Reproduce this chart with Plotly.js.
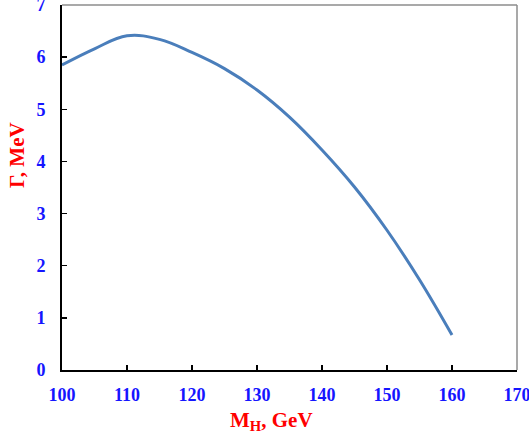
<!DOCTYPE html>
<html>
<head>
<meta charset="utf-8">
<script src="https://cdn.plot.ly/plotly-3.0.1.min.js"></script>
<style>html,body{margin:0;padding:0;background:#fff;}#chart{width:529px;height:440px;}</style>
</head>
<body>
<div id="chart"></div>
<script>
var massGeV = [100, 105, 110, 115, 120, 125, 130, 135, 140, 145, 150, 155, 160];
var widthMeV = [5.85, 6.16, 6.41, 6.34, 6.09, 5.78, 5.37, 4.85, 4.22, 3.51, 2.68, 1.73, 0.67];
var xTickVals = [100, 110, 120, 130, 140, 150, 160, 170];
var yTickVals = [0, 1, 2, 3, 4, 5, 6, 7];

var tickFont = {family: 'Liberation Serif, Times New Roman, serif', size: 18, color: '#1515ff', weight: 'bold'};
var titleFont = {family: 'Liberation Serif, Times New Roman, serif', size: 21, color: '#ff0000', weight: 'bold'};

var trace = {
  x: massGeV, y: widthMeV, type: 'scatter', mode: 'lines',
  line: {color: '#4a7ebb', width: 3, shape: 'spline', smoothing: 1.1},
  hoverinfo: 'skip'
};

var layout = {
  width: 529, height: 440,
  margin: {l: 62, r: 12, t: 5, b: 70},
  paper_bgcolor: '#fff', plot_bgcolor: '#fff',
  showlegend: false,
  xaxis: {
    range: [100, 170], tickvals: xTickVals, ticktext: xTickVals.map(String),
    ticks: 'inside', ticklen: 5, tickwidth: 1.5, tickcolor: '#000',
    showline: true, linecolor: '#000', linewidth: 2, showgrid: false, zeroline: false,
    tickfont: tickFont, ticklabelstandoff: 7, ticklabeloverflow: 'allow'
  },
  yaxis: {
    range: [0, 7], tickvals: yTickVals, ticktext: yTickVals.map(String),
    ticks: 'inside', ticklen: 5, tickwidth: 1.5, tickcolor: '#000',
    showline: true, linecolor: '#000', linewidth: 2, showgrid: false, zeroline: false,
    tickfont: tickFont, ticklabelstandoff: 11, ticklabeloverflow: 'allow'
  },
  shapes: [
    {type: 'line', xref: 'paper', yref: 'paper', x0: 0, x1: 1, y0: 1, y1: 1, line: {color: '#8c8c8c', width: 1.5}},
    {type: 'line', xref: 'paper', yref: 'paper', x0: 1, x1: 1, y0: 0, y1: 1, line: {color: '#8c8c8c', width: 1.5}}
  ],
  annotations: [
    {text: 'M<sub>H</sub>, GeV', xref: 'paper', yref: 'paper', x: (271 - 62) / 455, y: -(421 - 370) / 365,
     showarrow: false, font: titleFont, xanchor: 'center', yanchor: 'middle'},
    {text: 'Γ, MeV', xref: 'paper', yref: 'paper', x: -(62 - 17) / 455, y: (370 - 155) / 365,
     showarrow: false, font: titleFont, textangle: -90, xanchor: 'center', yanchor: 'middle'}
  ]
};

Plotly.newPlot('chart', [trace], layout, {displayModeBar: false, staticPlot: true});
</script>
</body>
</html>
